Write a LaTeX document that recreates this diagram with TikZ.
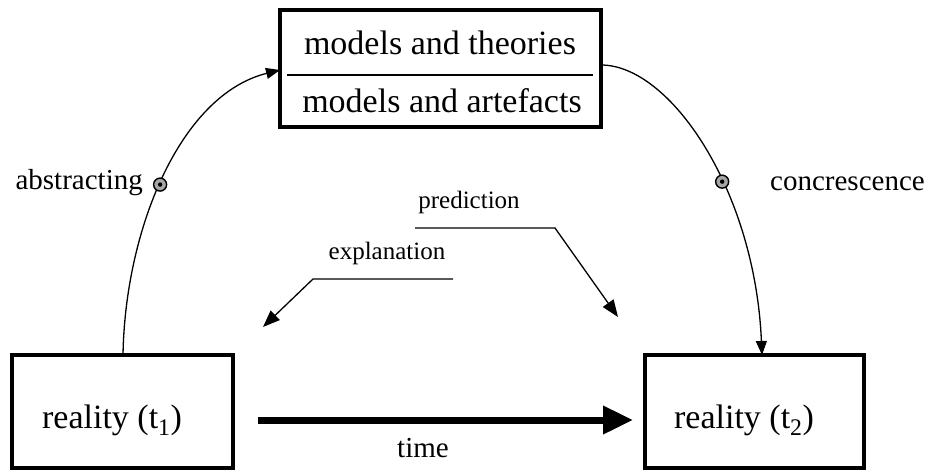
\documentclass[tikz,border=0pt]{standalone}
\usepackage{fontspec}
\setmainfont{Liberation Serif}
\usetikzlibrary{arrows.meta}
\begin{document}
\begin{tikzpicture}[x=1pt,y=-1pt,
  box/.style={draw,line width=4pt,rectangle,inner sep=0pt},
  big/.style={font=\fontsize{34}{38}\selectfont,inner sep=0pt},
  mid/.style={font=\fontsize{29}{32}\selectfont,inner sep=0pt},
  small/.style={font=\fontsize{25}{28}\selectfont,inner sep=0pt},
  thin/.style={line width=1.3pt},
  thinarrow/.style={thin,-{Triangle[length=14pt,width=11pt]}},
  midarrow/.style={thin,-{Triangle[length=17pt,width=13pt]}},
  dot/.style={circle,draw,line width=1.4pt,fill=gray!70,minimum size=13pt,inner sep=0pt,
    path picture={\fill[black] (path picture bounding box.center) circle (2.2pt);}}
]
\useasboundingbox (0,0) rectangle (930,471);
% boxes
\node[box,minimum width=321pt,minimum height=117pt] (tb) at (440.5,68.5) {};
\node[big] (tt) at (440,43) {models and theories};
\node[big] (ta) at (442,101) {models and artefacts};
\coordinate (dl) at (287,75);
\coordinate (dr) at (593,75);
\draw[thin] (dl) -- (dr);
\node[box,minimum width=221pt,minimum height=113pt] (r1) at (122.5,411.5) {};
\node[box,minimum width=219pt,minimum height=113pt] (r2) at (754.5,411.5) {};
\node[big] (r1t) at (112,420) {reality (t\textsubscript{1})};
\node[big] (r2t) at (744,420) {reality (t\textsubscript{2})};
% curves
\coordinate (ls) at (123,355);
\coordinate (le) at (280,70);
\draw[thinarrow] (ls) .. controls (125,230) and (180,95) .. (le)
  node[dot,pos=0.47] (ld) {};
\coordinate (rs) at (601,65);
\coordinate (re) at (762,355);
\draw[thinarrow] (rs) .. controls (670,65) and (755,190) .. (re)
  node[dot,pos=0.6] (rd) {};
\node[mid,anchor=east] (abs) at (143,183) {abstracting};
\node[mid,anchor=west] (con) at (770,184) {concrescence};
% time
\coordinate (ts) at (258,420);
\coordinate (te) at (633,420);
\draw[line width=7pt,-{Triangle[length=30pt,width=27pt]}] (ts) -- (te);
\node[mid] (time) at (423,448) {time};
% explanation / prediction
\coordinate (ea) at (453,279);
\coordinate (eb) at (313,279);
\coordinate (ec) at (263,327);
\draw[midarrow] (ea) -- (eb) -- (ec);
\node[small] (ex) at (387,253) {explanation};
\coordinate (pa) at (415,228);
\coordinate (pb) at (555,228);
\coordinate (pc) at (618,317);
\draw[midarrow] (pa) -- (pb) -- (pc);
\node[small] (pr) at (469,202) {prediction};
\end{tikzpicture}
\end{document}
